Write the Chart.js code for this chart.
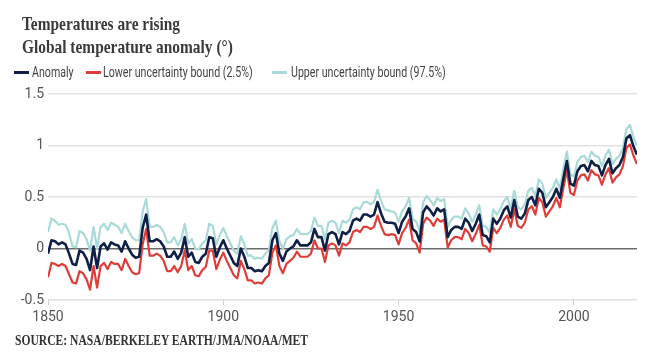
<!DOCTYPE html>
<html>
<head>
<meta charset="utf-8">
<script src="https://cdn.jsdelivr.net/npm/chart.js@4.4.1/dist/chart.umd.min.js"></script>
<style>
  html, body { margin: 0; padding: 0; background: #fff; }
  #wrap { position: relative; width: 650px; height: 358px; overflow: hidden; }
  #chart { position: absolute; left: 0; top: 0; }
  .title { position: absolute; left: 22px; font-family: "Liberation Serif", serif; font-weight: bold; font-size: 19.5px; color: #3a3a3a; white-space: nowrap; line-height: 1; transform: scaleX(0.79); transform-origin: left top; }
  .leg { position: absolute; top: 64px; height: 16px; white-space: nowrap; font-family: Roboto, sans-serif; font-size: 14px; color: #444; line-height: 16px; }
  .leg i { position: absolute; top: 7px; left: 0; height: 2.5px; }
  .leg span { position: absolute; top: 0; display: inline-block; transform: scaleX(0.76); transform-origin: left center; }
  .source { position: absolute; left: 15px; top: 332px; font-family: "Liberation Serif", serif; font-weight: bold; font-size: 14.5px; color: #333; white-space: nowrap; transform: scaleX(0.8); transform-origin: left top; }
</style>
</head>
<body>
<div id="wrap">
  <canvas id="chart" width="650" height="358"></canvas>
  <div class="title" style="top:14px">Temperatures are rising</div>
  <div class="title" style="top:37px">Global temperature anomaly (°)</div>
  <div class="leg" style="left:14px"><i style="width:15px;background:#0f1f45"></i><span style="left:18px">Anomaly</span></div>
  <div class="leg" style="left:86px"><i style="width:15px;background:#df3d37"></i><span style="left:17px">Lower uncertainty bound (2.5%)</span></div>
  <div class="leg" style="left:272px"><i style="width:15px;background:#a9dad8"></i><span style="left:19px">Upper uncertainty bound (97.5%)</span></div>
  <div class="source">SOURCE: NASA/BERKELEY EARTH/JMA/NOAA/MET</div>
</div>
<script>
// годы 1850..2018, значения
const firstYear = 1850;

const anomaly = [
  -0.05, 0.08, 0.07, 0.04, 0.06, 0.04, -0.05, -0.15, -0.16, -0.02,
  -0.04, -0.10, -0.21, 0.02, -0.19, 0.02, 0.05, -0.01, 0.06, 0.04,
  0.03, -0.03, 0.07, 0.00, -0.06, -0.09, -0.08, 0.20, 0.33, 0.07,
  0.07, 0.09, 0.07, 0.02, -0.08, -0.08, -0.03, -0.10, -0.04, 0.11,
  -0.08, -0.04, -0.13, -0.14, -0.08, -0.05, 0.11, 0.10, -0.08, 0.01,
  0.08, 0.00, -0.07, -0.14, -0.17, 0.00, -0.08, -0.19, -0.19, -0.22,
  -0.21, -0.22, -0.17, -0.14, 0.08, 0.15, -0.05, -0.12, -0.03, 0.00,
  0.02, 0.08, 0.03, 0.03, 0.03, 0.06, 0.19, 0.11, 0.11, -0.02,
  0.14, 0.16, 0.14, 0.04, 0.16, 0.14, 0.17, 0.27, 0.29, 0.27,
  0.33, 0.33, 0.31, 0.33, 0.45, 0.34, 0.26, 0.25, 0.25, 0.24,
  0.15, 0.26, 0.31, 0.39, 0.19, 0.16, 0.07, 0.35, 0.41, 0.37,
  0.32, 0.39, 0.36, 0.38, 0.11, 0.18, 0.21, 0.21, 0.19, 0.29,
  0.25, 0.17, 0.24, 0.33, 0.13, 0.12, 0.06, 0.29, 0.24, 0.29,
  0.37, 0.41, 0.30, 0.47, 0.31, 0.29, 0.34, 0.47, 0.50, 0.42,
  0.58, 0.54, 0.40, 0.45, 0.50, 0.58, 0.49, 0.68, 0.85, 0.63,
  0.61, 0.75, 0.80, 0.81, 0.75, 0.85, 0.81, 0.80, 0.71, 0.81,
  0.87, 0.73, 0.78, 0.81, 0.89, 1.07, 1.10, 0.99, 0.91
];

const lowerBound = [
  -0.28, -0.14, -0.15, -0.17, -0.15, -0.17, -0.25, -0.33, -0.34, -0.22,
  -0.24, -0.30, -0.40, -0.17, -0.38, -0.17, -0.14, -0.20, -0.13, -0.15,
  -0.15, -0.21, -0.10, -0.17, -0.23, -0.25, -0.24, 0.04, 0.19, -0.07,
  -0.07, -0.05, -0.07, -0.12, -0.22, -0.22, -0.17, -0.23, -0.17, -0.02,
  -0.21, -0.17, -0.26, -0.27, -0.21, -0.18, -0.02, -0.02, -0.20, -0.11,
  -0.04, -0.12, -0.19, -0.26, -0.29, -0.12, -0.20, -0.31, -0.31, -0.34,
  -0.33, -0.34, -0.29, -0.26, -0.04, 0.03, -0.17, -0.24, -0.15, -0.12,
  -0.09, -0.03, -0.08, -0.08, -0.08, -0.05, 0.08, 0.00, 0.00, -0.13,
  0.03, 0.05, 0.03, -0.07, 0.05, 0.03, 0.06, 0.16, 0.18, 0.16,
  0.21, 0.21, 0.19, 0.21, 0.32, 0.22, 0.14, 0.13, 0.14, 0.13,
  0.04, 0.15, 0.20, 0.28, 0.08, 0.05, -0.04, 0.24, 0.30, 0.27,
  0.22, 0.29, 0.26, 0.28, 0.01, 0.08, 0.11, 0.11, 0.09, 0.19,
  0.15, 0.07, 0.14, 0.23, 0.03, 0.02, -0.03, 0.20, 0.15, 0.20,
  0.28, 0.32, 0.21, 0.38, 0.22, 0.20, 0.25, 0.38, 0.41, 0.33,
  0.49, 0.45, 0.31, 0.36, 0.41, 0.49, 0.40, 0.59, 0.76, 0.54,
  0.52, 0.66, 0.71, 0.72, 0.66, 0.76, 0.72, 0.71, 0.62, 0.72,
  0.78, 0.64, 0.69, 0.72, 0.80, 0.98, 1.01, 0.90, 0.82
];

const upperBound = [
  0.16, 0.29, 0.27, 0.23, 0.24, 0.23, 0.15, 0.02, 0.01, 0.17,
  0.15, 0.09, -0.02, 0.21, 0.00, 0.21, 0.24, 0.18, 0.25, 0.23,
  0.21, 0.15, 0.24, 0.17, 0.11, 0.08, 0.08, 0.36, 0.48, 0.21,
  0.21, 0.23, 0.21, 0.16, 0.06, 0.06, 0.11, 0.03, 0.09, 0.24,
  0.05, 0.09, 0.00, -0.01, 0.05, 0.08, 0.24, 0.22, 0.04, 0.13,
  0.20, 0.12, 0.05, -0.02, -0.05, 0.12, 0.04, -0.07, -0.07, -0.10,
  -0.09, -0.10, -0.05, -0.02, 0.20, 0.27, 0.07, 0.00, 0.09, 0.12,
  0.13, 0.19, 0.14, 0.14, 0.14, 0.17, 0.30, 0.22, 0.22, 0.09,
  0.25, 0.27, 0.25, 0.15, 0.27, 0.25, 0.28, 0.38, 0.40, 0.38,
  0.45, 0.45, 0.43, 0.45, 0.57, 0.46, 0.38, 0.37, 0.36, 0.35,
  0.26, 0.36, 0.41, 0.49, 0.29, 0.26, 0.17, 0.45, 0.51, 0.47,
  0.42, 0.49, 0.46, 0.48, 0.21, 0.28, 0.31, 0.31, 0.29, 0.39,
  0.34, 0.26, 0.33, 0.42, 0.22, 0.21, 0.15, 0.38, 0.33, 0.38,
  0.46, 0.50, 0.39, 0.56, 0.40, 0.38, 0.43, 0.56, 0.59, 0.51,
  0.67, 0.63, 0.49, 0.54, 0.59, 0.67, 0.58, 0.77, 0.94, 0.72,
  0.70, 0.84, 0.89, 0.90, 0.84, 0.94, 0.90, 0.89, 0.80, 0.90,
  0.96, 0.82, 0.87, 0.90, 0.98, 1.16, 1.20, 1.08, 1.00
];

const xTicks = [1850, 1900, 1950, 2000];
const yTicks = [-0.5, 0, 0.5, 1, 1.5];

const years = anomaly.map((_, i) => firstYear + i);
const toPoints = arr => arr.map((v, i) => ({ x: years[i], y: v }));

const ctx = document.getElementById('chart').getContext('2d');
new Chart(ctx, {
  type: 'line',
  data: {
    datasets: [
      { label: 'Anomaly', data: toPoints(anomaly), borderColor: '#0f1f45', borderWidth: 2.6 },
      { label: 'Lower uncertainty bound (2.5%)', data: toPoints(lowerBound), borderColor: '#df3d37', borderWidth: 2.2 },
      { label: 'Upper uncertainty bound (97.5%)', data: toPoints(upperBound), borderColor: '#a9dad8', borderWidth: 2.2 }
    ]
  },
  options: {
    responsive: false,
    animation: false,
    events: [],
    elements: { point: { radius: 0 }, line: { tension: 0, borderJoinStyle: 'round' } },
    layout: { padding: { top: 94, right: 13, bottom: 28, left: 0 } },
    plugins: { legend: { display: false }, tooltip: { enabled: false } },
    scales: {
      x: {
        type: 'linear',
        min: firstYear,
        max: years[years.length - 1],
        afterBuildTicks: s => { s.ticks = xTicks.map(v => ({ value: v })); },
        afterFit: s => { s.height = 30; },
        border: { display: false },
        grid: { drawOnChartArea: false, drawTicks: true, tickLength: 5, color: '#d0d0d0' },
        ticks: { padding: 4, color: '#555', font: { family: 'Roboto', size: 14 }, callback: v => String(v), maxRotation: 0 }
      },
      y: {
        min: -0.5,
        max: 1.5,
        afterBuildTicks: s => { s.ticks = yTicks.map(v => ({ value: v })); },
        afterFit: s => { s.width = 48; },
        border: { display: false },
        grid: {
          drawTicks: false,
          color: c => c.tick && c.tick.value === 0 ? '#6a6a6a' : '#e1e1e1',
          lineWidth: c => c.tick && c.tick.value === 0 ? 1.6 : 1.5
        },
        ticks: { padding: 4, color: '#555', font: { family: 'Roboto', size: 14 }, callback: v => String(v) }
      }
    }
  }
});
</script>
</body>
</html>
